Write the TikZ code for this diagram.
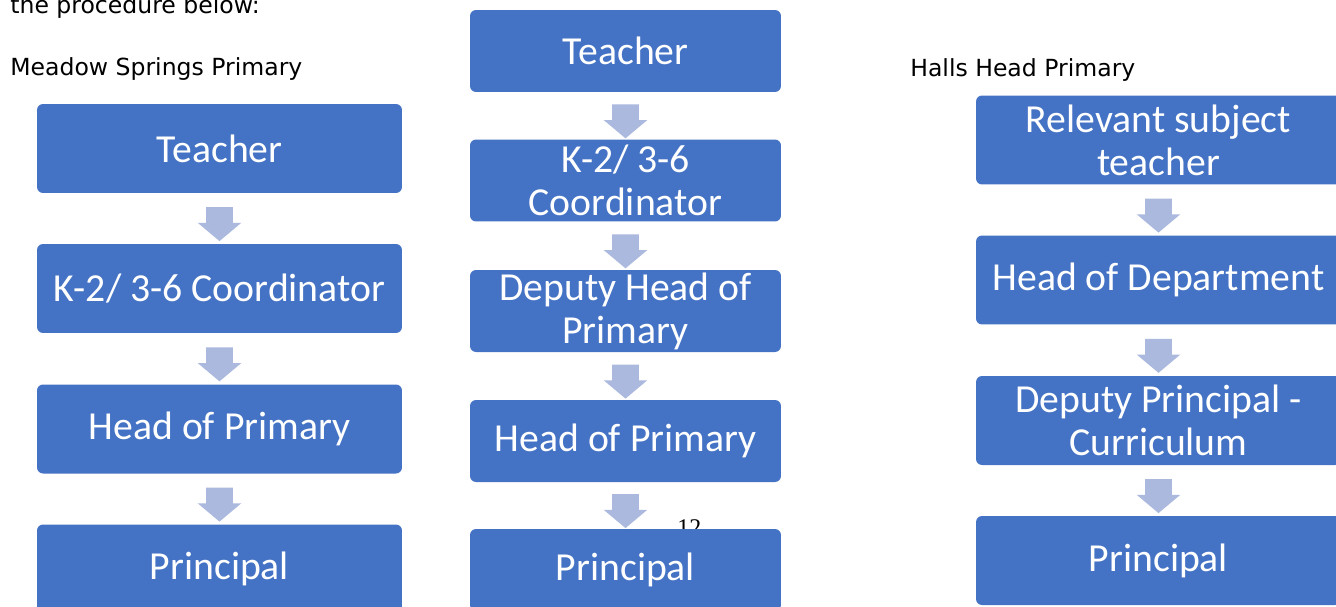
\documentclass[tikz,border=0pt]{standalone}
\usepackage{fontspec}
\setmainfont{Carlito}
\newfontfamily\labelfont{DejaVu Sans}
\newfontfamily\pagefont{Liberation Serif}
\usetikzlibrary{shapes.arrows,calc}
\definecolor{boxblue}{RGB}{68,114,196}
\definecolor{arrowblue}{RGB}{172,185,222}
\begin{document}
\begin{tikzpicture}[x=0.02cm,y=-0.02cm,
    stepbox/.style={fill=boxblue,text=white,rounded corners=0.12cm,inner sep=0pt,
      align=center,font=\fontsize{22.6}{24.4}\selectfont},
    widebox/.style={stepbox,minimum width=7.3cm,minimum height=1.78cm},
    midbox/.style={stepbox,minimum width=6.22cm,minimum height=1.64cm},
    flowarrow/.style={single arrow,shape border rotate=270,fill=arrowblue,
      inner xsep=0.26cm,inner ysep=0pt,minimum height=0.68cm,
      single arrow head extend=0.17cm,single arrow tip angle=100},
    schoolname/.style={anchor=base west,inner sep=0pt,font=\labelfont\fontsize{13.4}{16}\selectfont}]
  \useasboundingbox (0,0) rectangle (1336,606);
  \clip (0,0) rectangle (1336,606);
  % headings
  \node[schoolname] (intro) at (10,13) {the procedure below:};
  \node[schoolname] (ms) at (10,75) {Meadow Springs Primary};
  \node[schoolname] (hh) at (910,76) {Halls Head Primary};
  % page number, partly hidden
  \node[anchor=north west,inner sep=0pt,font=\pagefont\fontsize{13.6}{16}\selectfont] (pg) at (677,519) {12};
  % Meadow Springs
  \node[widebox] (ms1) at (219.5,148.5) {Teacher};
  \node[widebox] (ms2) at (219.5,288.5) {K-2/ 3-6 Coordinator};
  \node[widebox] (ms3) at (219.5,429) {Head of Primary};
  \node[widebox] (ms4) at (219.5,569) {Principal};
  % middle school
  \node[midbox] (md1) at (625.5,51) {Teacher};
  \node[midbox] (md2) at (625.5,180.5) {K-2/ 3-6\\Coordinator};
  \node[midbox] (md3) at (625.5,311) {Deputy Head of\\Primary};
  \node[midbox] (md4) at (625.5,441) {Head of Primary};
  \node[midbox] (md5) at (625.5,570) {Principal};
  % Halls Head
  \node[widebox] (hh1) at (1158.5,140) {Relevant subject\\teacher};
  \node[widebox] (hh2) at (1158.5,280) {Head of Department};
  \node[widebox] (hh3) at (1158.5,420.5) {Deputy Principal -\\Curriculum};
  \node[widebox] (hh4) at (1158.5,560.5) {Principal};
  % arrows
  \foreach \a/\b in {ms1/ms2,ms2/ms3,ms3/ms4,md1/md2,md2/md3,md3/md4,md4/md5,hh1/hh2,hh2/hh3,hh3/hh4}
    \node[flowarrow] (\a-\b) at ($(\a.south)!0.5!(\b.north)$) {};
\end{tikzpicture}
\end{document}
